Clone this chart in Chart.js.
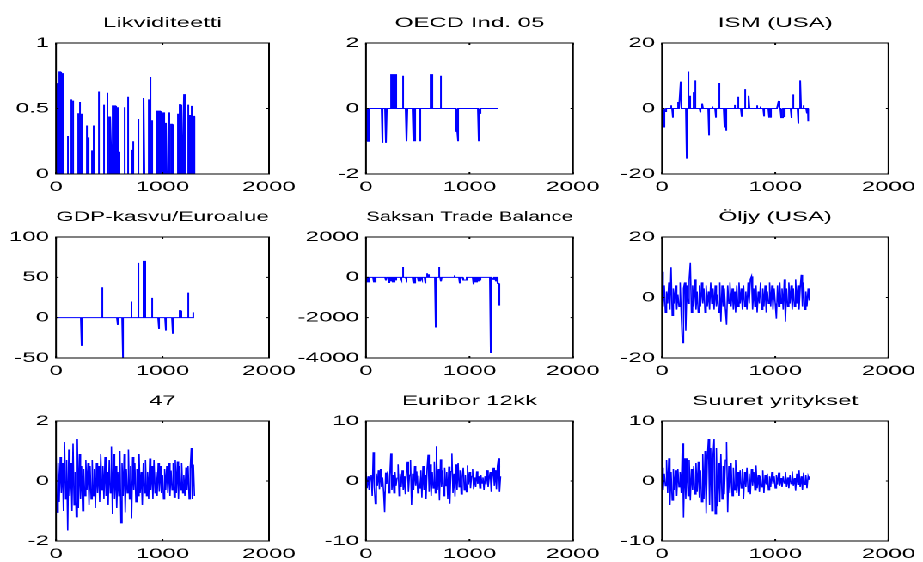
<!DOCTYPE html>
<html>
<head>
<meta charset="utf-8">
<script src="https://cdn.jsdelivr.net/npm/chart.js@4.4.1/dist/chart.umd.min.js"></script>
<style>
  html, body { margin: 0; padding: 0; background: #fff; overflow: hidden; }
  /* the original figure is stretched sideways, so draw narrow and widen */
  #fig { position: relative; width: 537px; height: 562px; transform: scaleX(1.7188); transform-origin: 0 0; }
  #fig canvas { position: absolute; left: 0; top: 0; }
</style>
</head>
<body>
<div id="fig"></div>
<script>
// ---- data ----
const xTicks = [0, 1000, 2000];
const sampleStep = 10; // dense series: one value read per 10 observations

// [first sample, last sample, value], zero elsewhere
const likEvents = [[13,30,0.69],[31,47,0.78],[69,69,0.77],[106,106,0.29],[141,141,0.57],[160,160,0.56],
  [206,225,0.46],[229,229,0.55],[244,244,0.46],[285,285,0.37],[300,300,0.28],[331,341,0.18],[357,357,0.37],
  [407,407,0.63],[444,444,0.53],[476,476,0.62],[507,523,0.435],[526,557,0.52],[582,582,0.51],[601,601,0.17],
  [638,638,0.51],[673,673,0.59],[710,720,0.18],[726,726,0.25],[776,776,0.42],[829,829,0.58],[867,876,0.57],
  [889,889,0.74],[901,901,0.41],[951,962,0.48],[970,983,0.48],[1008,1008,0.47],[1039,1039,0.39],[1061,1061,0.47],
  [1077,1077,0.38],[1088,1102,0.38],[1152,1152,0.46],[1167,1177,0.53],[1202,1202,0.61],[1239,1239,0.53],
  [1252,1264,0.45],[1274,1274,0.52],[1290,1299,0.44]];
const likLast = 1300;

const oecdEvents = [[10,10,-1],[18,18,-1],[158,158,-1.05],[200,200,-1.05],[238,238,1.05],[251,251,1.05],
  [283,283,1.05],[293,293,1.05],[364,364,1],[399,399,-1],[464,464,-1],[477,477,-1],[528,528,-1],
  [631,631,1.05],[641,641,1.05],[728,728,1],[866,871,-0.2],[872,877,-0.45],[878,883,-0.7],[884,887,-1],
  [1086,1089,-1],[1090,1093,-0.7],[1094,1097,-0.4],[1098,1101,-0.15]];
const oecdLast = 1295;

const ismEvents = [[12,12,-5.8],[18,18,-5.8],[27,38,-0.9],[84,84,1],[98,98,-2.8],[147,147,2],[165,165,8.2],
  [214,214,-15.3],[231,231,11.3],[245,245,3.9],[277,277,5],[294,294,8.6],[343,343,-1.2],[361,361,1.5],
  [410,410,-8.2],[441,441,0.6],[473,473,-2.8],[508,508,7.8],[557,557,-5.8],[571,571,-6.8],[638,638,1.1],
  [672,672,3.6],[704,704,-2.5],[733,733,5.9],[771,771,3.9],[834,834,1],[869,869,0.6],[895,895,-2.4],
  [949,949,-2.8],[961,961,-2.8],[1030,1030,2.3],[1050,1054,-1],[1055,1059,-2],[1060,1065,-2.8],
  [1079,1079,-2.6],[1146,1146,-2.9],[1160,1160,4.3],[1209,1209,-4.6],[1227,1227,8.6],[1244,1244,1],
  [1276,1276,-1.5],[1290,1293,-3.9]];
const ismLast = 1293;

const gdpEvents = [[242,242,-35],[437,437,37.7],[579,579,-9],[635,635,-50],[704,704,20],[774,774,68],
  [824,824,70.4],[830,830,70.4],[903,903,24.5],[972,972,-14],[1028,1032,-8],[1033,1038,-16],[1094,1094,-20],
  [1160,1170,8.7],[1242,1242,31],[1288,1295,6.5]];
const gdpLast = 1295;

const tradeEvents = [[6,6,-250],[23,23,-250],[71,71,-250],[80,80,-150],[93,93,-250],[200,200,-150],
  [232,232,-280],[248,248,-200],[256,256,-250],[264,264,-200],[272,272,-250],[280,280,-200],[296,296,-150],
  [345,345,-100],[361,361,515],[393,393,-100],[464,464,-300],[472,472,-300],[480,480,-250],[506,506,-200],
  [514,514,-150],[522,522,-200],[538,538,-100],[570,570,-300],[596,596,200],[600,600,150],[676,676,-2490],
  [708,708,515],[731,731,-200],[853,853,100],[908,908,-300],[940,972,-130],[1037,1037,-350],[1053,1053,-250],
  [1061,1061,-150],[1069,1069,-250],[1085,1085,-200],[1101,1101,-150],[1204,1204,-3754],[1230,1230,-100],
  [1262,1262,-200],[1279,1283,-300],[1284,1288,-700],[1289,1293,-1000],[1294,1298,-1380]];
const tradeLast = 1298;

const oilValues = [8.5,-3,4,-5,2,-2,5,-4,10,-6, 3,-2,4,-4,1,-3,5,-6,-15,3, 5,-11,4,-2,6,11.5,-5,4,-3,6,
  -4,2,-5,4,-3,5,-2,3,-5,4, -3,2,-4,5,-2,3,-4,4,-3,1, -5,5,-8,4,-3,3,-4,-9,4,-2,
  5,-3,3,-4,2,-5,4,-3,5,-2, 3,-4,4,-3,2,-4,5,-2,6,7, -4,3,-3,4,-5,2,-2,5,-4,3,
  -3,4,-5,2,-2,5,-3,4,-4,3, -2,-7,4,-3,5,-2,3,-4,6,-8, 3,-3,5,-2,4,-4,3,-3,6,-2,
  4,-4,3,7.5,-3,5,-4,2,-3,3, -1];

const s47Values = [0.9,-1.05,0.6,-0.7,0.8,-0.4,0.6,-1.0,1.3,-0.6, 0.7,-1.65,1.05,-0.5,0.6,-1.0,1.25,-0.8,0.3,-1.2,
  1.4,-0.9,0.9,-0.6,0.5,-1.0,0.4,-0.5,0.7,-0.3, 0.6,-0.8,0.5,-0.6,0.7,-0.5,0.4,-0.9,0.6,-0.4,
  0.5,-0.7,0.9,-0.3,0.5,-0.6,0.8,-0.5,0.3,-0.8, 0.7,-0.4,1.15,-1.1,0.9,-0.6,0.5,-0.9,0.3,-0.5,
  1.0,-1.4,0.6,-0.5,0.9,-1.05,0.4,-0.4,1.05,-0.6, 0.5,-1.25,0.8,-0.3,0.6,-0.7,0.4,-0.5,0.9,-0.4,
  0.3,-0.8,0.6,-0.4,0.7,-0.5,0.3,-0.6,0.75,-0.3, 0.5,-0.6,0.7,-0.4,0.3,-0.5,0.6,-0.35,0.5,-0.4,
  0.2,-0.6,0.4,-0.3,0.5,-0.4,0.6,-0.5,0.35,-0.3, 0.6,-0.55,0.7,-0.4,0.65,-0.6,0.5,-0.3,0.6,-0.4,
  0.2,-0.5,0.45,-0.3,0.5,-0.6,0.4,1.1,-0.6,0.55, -0.5];

const euriborValues = [1.5,-1.2,0.8,-1.5,0.5,1.0,-2.5,4.8,-1.0,-3.8, 1.2,-0.8,1.8,-1.4,2.0,-1.0,0.6,-1.8,-5.2,1.4,
  -0.5,1.6,-2.0,0.8,4.6,-1.5,1.0,-2.0,1.5,-0.8, 0.5,2.8,-2.5,1.2,-1.0,1.8,-1.5,0.8,-2.2,1.5,
  3.2,-1.8,1.0,3.5,-4.0,1.2,-1.5,2.5,-0.8,1.6, -2.0,0.9,-1.2,1.8,-2.8,2.5,-1.5,1.0,-3.0,2.0,
  4.4,-1.8,2.8,-2.5,1.5,-1.2,3.2,-2.0,5.8,-1.5, 2.0,-3.2,3.6,-1.0,1.8,-2.5,2.2,-0.8,1.5,-3.0,
  2.4,-3.8,1.6,4.6,-2.0,1.2,-2.6,2.8,-1.5,3.0, -1.0,1.8,-2.2,0.8,2.2,-1.5,1.0,-1.8,2.6,-0.6,
  1.5,-1.2,0.8,2.0,-1.4,0.6,-1.0,1.6,-0.5,0.8, -1.2,1.0,-0.4,0.6,-1.5,0.8,-0.6,1.8,-1.0,0.5,
  1.5,-1.8,0.8,2.2,-0.8,1.8,-1.4,2.5,3.8,-1.8, 0.8];

const bigFirmValues = [2.2,-1.5,1.2,-0.8,3.5,-2.0,3.8,-4.0,1.5,-3.2, 2.0,-1.5,1.8,-2.5,2.0,-1.0,1.5,-2.0,6.3,-6.1,
  3.8,-3.0,3.8,-2.5,3.5,-3.2,2.0,-1.5,2.5,-2.2, 3.0,-1.8,3.2,-2.8,1.8,-3.5,4.5,-3.0,5.0,-5.4,
  3.5,7.0,-4.0,5.5,-5.0,4.0,7.0,-5.5,5.5,-4.2, 3.0,-3.5,4.5,-3.0,2.5,-2.2,3.5,6.5,-5.2,2.5,
  -2.0,3.0,-2.5,2.2,-1.5,3.5,-2.0,1.5,-2.5,1.8, -1.2,2.0,-3.0,1.5,-1.0,2.2,-1.8,1.2,-2.2,2.0,
  -0.8,1.5,-1.5,2.6,-1.2,1.0,-1.8,0.8,-1.0,1.8, -2.0,1.0,-0.6,1.2,-1.5,0.8,-1.0,1.5,-0.5,0.8,
  -1.2,1.0,-0.6,1.4,-0.8,0.5,-1.0,0.8,-0.4,1.5, -1.0,0.6,-1.2,1.0,-0.5,1.6,-0.8,0.5,-1.6,1.2,
  -0.6,1.8,-1.0,0.8,-1.5,1.4,-0.6,1.0,-1.2,0.8, 0.2];

// ---- layout (pixels of the final 923x562 picture) ----
const W = 537, H = 562, stretch = 923 / W;
const cols = [[56, 269], [366, 573], [662, 893]];
const rows = [[43, 174], [237, 358], [421, 541]];
const font = { family: "'Liberation Sans', Arial, sans-serif", size: 14, weight: 'normal' };
const blue = '#0000ff';

function eventSeries(events, last) {
  const y = new Array(last + 1).fill(0);
  for (const [a, b, v] of events) for (let i = a; i <= b; i++) y[i] = v;
  return y.map((v, i) => ({ x: i, y: v }));
}
function denseSeries(values) {
  return values.map((v, i) => ({ x: i * sampleStep, y: v }));
}

// box round the axes and MATLAB style inward ticks
const frame = {
  id: 'frame',
  afterDatasetsDraw(chart) {
    const { ctx, chartArea: a, scales: { x, y } } = chart;
    ctx.save();
    ctx.strokeStyle = '#000';
    ctx.lineWidth = 1;
    ctx.strokeRect(a.left, a.top, a.right - a.left, a.bottom - a.top);
    ctx.beginPath();
    x.ticks.forEach(t => {
      const px = x.getPixelForValue(t.value);
      ctx.moveTo(px, a.bottom); ctx.lineTo(px, a.bottom - 2);
      ctx.moveTo(px, a.top); ctx.lineTo(px, a.top + 2);
    });
    y.ticks.forEach(t => {
      const py = y.getPixelForValue(t.value);
      ctx.moveTo(a.left, py); ctx.lineTo(a.left + 1.5, py);
      ctx.moveTo(a.right, py); ctx.lineTo(a.right - 1.5, py);
    });
    ctx.stroke();
    ctx.restore();
  }
};

let makePanel = (title, points, yMin, yMax, yStep, col, row, opts = {}) => {
  const canvas = document.createElement('canvas');
  canvas.width = W;
  canvas.height = H;
  document.getElementById('fig').appendChild(canvas);

  const left = cols[col][0] / stretch, right = cols[col][1] / stretch;
  const top = rows[row][0], bottom = rows[row][1];
  const titlePad = 11.6, titleH = font.size * 1.2 + titlePad;
  // y labels are clipped to the axis box, so give it all the room on the left
  const yAxisW = Math.min(45, left - 1);
  const xAxisH = 26;

  return new Chart(canvas, {
    type: 'line',
    data: {
      datasets: [{
        data: points,
        borderColor: blue,
        backgroundColor: blue,
        borderWidth: opts.width || 1,
        pointRadius: 0,
        tension: 0,
        fill: opts.fill ? 'origin' : false
      }]
    },
    options: {
      responsive: false,
      animation: false,
      devicePixelRatio: 2,
      parsing: false,
      events: [],
      layout: { padding: { left: left - yAxisW, right: W - right, top: top - titleH, bottom: H - bottom - xAxisH } },
      plugins: {
        legend: { display: false },
        tooltip: { enabled: false },
        title: { display: true, text: title, fullSize: false, color: '#000', font: font, padding: { top: 0, bottom: titlePad } }
      },
      scales: {
        x: {
          type: 'linear', min: xTicks[0], max: xTicks[xTicks.length - 1],
          afterFit: sc => { sc.height = xAxisH; },
          afterBuildTicks: sc => { sc.ticks = xTicks.map(v => ({ value: v })); },
          grid: { display: false, drawTicks: false },
          border: { display: false },
          ticks: { autoSkip: false, maxRotation: 0, color: '#000', font: font, padding: 4.5, callback: v => String(v) }
        },
        y: {
          type: 'linear', min: yMin, max: yMax,
          afterFit: sc => { sc.width = yAxisW; },
          grid: { display: false, drawTicks: false },
          border: { display: false },
          ticks: { stepSize: yStep, color: '#000', font: font, padding: 4, callback: v => String(v) }
        }
      }
    },
    plugins: [frame]
  });
};

makePanel('Likviditeetti', eventSeries(likEvents, likLast), 0, 1, 0.5, 0, 0, { fill: true });
makePanel('OECD Ind. 05', eventSeries(oecdEvents, oecdLast), -2, 2, 2, 1, 0);
makePanel('ISM (USA)', eventSeries(ismEvents, ismLast), -20, 20, 20, 2, 0);
makePanel('GDP-kasvu/Euroalue', eventSeries(gdpEvents, gdpLast), -50, 100, 50, 0, 1);
makePanel('Saksan Trade Balance', eventSeries(tradeEvents, tradeLast), -4000, 2000, 2000, 1, 1);
makePanel('Öljy (USA)', denseSeries(oilValues), -20, 20, 20, 2, 1, { width: 0.8 });
makePanel('47', denseSeries(s47Values), -2, 2, 2, 0, 2, { width: 0.8 });
makePanel('Euribor 12kk', denseSeries(euriborValues), -10, 10, 10, 1, 2, { width: 0.8 });
makePanel('Suuret yritykset', denseSeries(bigFirmValues), -10, 10, 10, 2, 2, { width: 0.8 });
</script>
</body>
</html>
